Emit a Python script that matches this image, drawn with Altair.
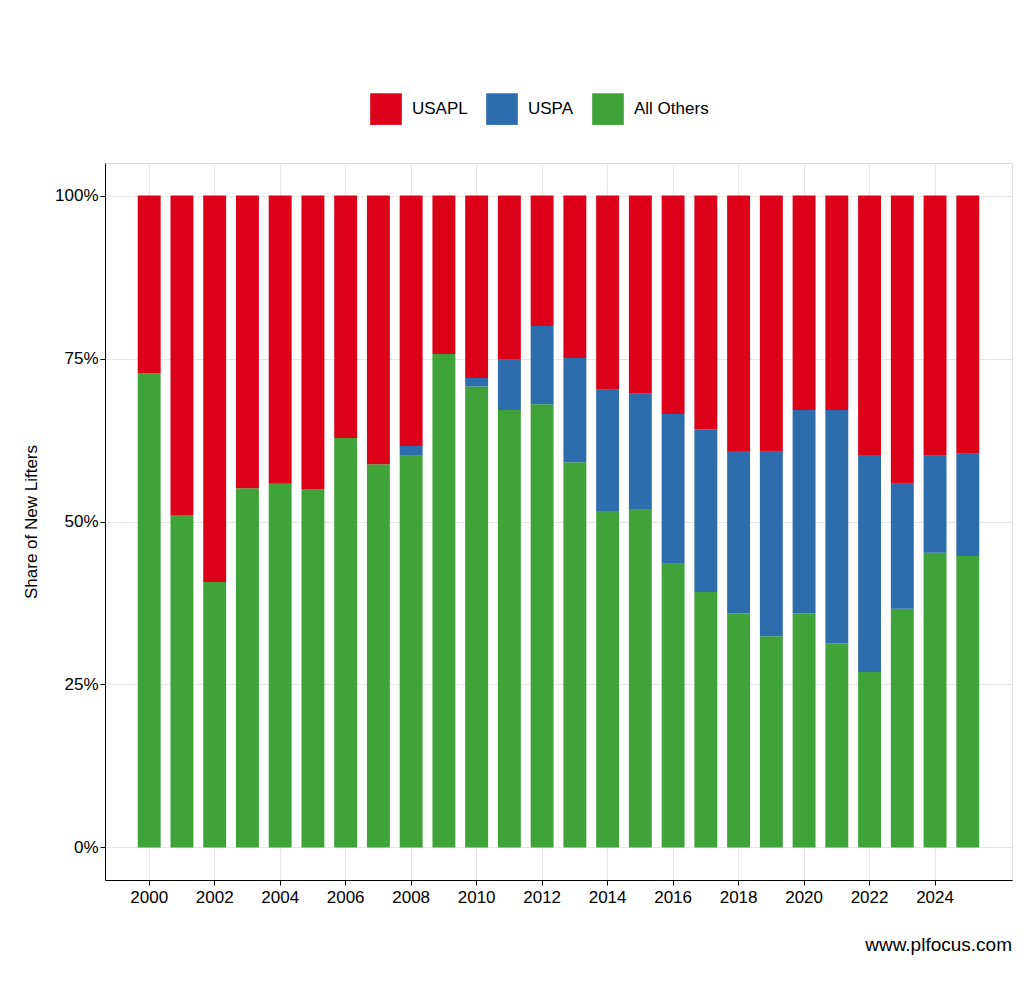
import altair as alt
import pandas as pd

years = list(range(2000, 2026))
others = [72.7,51.0,40.7,55.1,55.8,55.0,62.8,58.8,60.1,75.7,70.7,67.1,68.0,59.1,51.6,51.9,43.5,39.2,35.9,32.4,35.9,31.3,26.9,36.6,45.2,44.7]
usapl_uspa_top = [72.7,51.0,40.7,55.1,55.8,55.0,62.8,58.8,61.6,75.7,72.0,74.8,80.0,75.1,70.2,69.6,66.5,64.1,60.8,60.7,67.1,67.1,60.2,55.8,60.1,60.4]

rows = []
for y, o, t in zip(years, others, usapl_uspa_top):
    rows.append({"year": str(y), "fed": "All Others", "share": o / 100, "ord": 0})
    rows.append({"year": str(y), "fed": "USPA", "share": (t - o) / 100, "ord": 1})
    rows.append({"year": str(y), "fed": "USAPL", "share": (100 - t) / 100, "ord": 2})
df = pd.DataFrame(rows)

colors = alt.Scale(domain=["USAPL", "USPA", "All Others"], range=["#DD0019", "#2E6DAD", "#40A33A"])

bars = alt.Chart(df).mark_bar().encode(
    x=alt.X("year:O", title=None,
            scale=alt.Scale(paddingInner=0.3, paddingOuter=1),
            axis=alt.Axis(values=[str(y) for y in years if y % 2 == 0], labelAngle=0,
                          grid=True, gridColor="#E6E6E6", domainColor="black", tickColor="black",
                          labelFontSize=17, labelColor="black", labelPadding=4, tickSize=5, bandPosition=0.5)),
    y=alt.Y("share:Q", title="Share of New Lifters", stack="zero",
            scale=alt.Scale(domain=[-0.05, 1.05], nice=False),
            axis=alt.Axis(values=[0, 0.25, 0.5, 0.75, 1], format="%", grid=True, gridColor="#E6E6E6",
                          domainColor="black", tickColor="black", tickSize=5, labelFontSize=17,
                          labelColor="black", titleFontSize=17, titleFontWeight="normal", titlePadding=14)),
    color=alt.Color("fed:N", scale=colors, title=None,
                    legend=alt.Legend(orient="none", legendX=265, legendY=-70, direction="horizontal",
                                      symbolType="square", symbolSize=1000, symbolStrokeWidth=0,
                                      labelFontSize=17, columnPadding=18, labelOffset=10)),
    order=alt.Order("ord:Q"),
)

caption = alt.Chart(pd.DataFrame({"t": ["www.plfocus.com"]})).mark_text(
    align="right", fontSize=19, color="black", baseline="alphabetic"
).encode(text="t:N", x=alt.value(907), y=alt.value(788))

chart = alt.layer(bars, caption).properties(
    width=907, height=717,
    autosize=alt.AutoSizeParams(type="none"),
    padding={"left": 97, "top": 155, "right": 4, "bottom": 104},
    title=alt.TitleParams("USA Powerlifting: Federation of First Meet",
                          subtitle="Where new lifters enter the sport, non-IPF meets, 2015–2025 (excl. TX high school feds)",
                          anchor="start", frame="group", fontSize=25, fontWeight="bold", color="black",
                          subtitleFontSize=18, subtitleColor="#555555", subtitlePadding=8, offset=90),
).configure_view(stroke=None).configure(font="Liberation Sans")

chart.save("out.html", embed_options={"renderer": "svg", "actions": False})
